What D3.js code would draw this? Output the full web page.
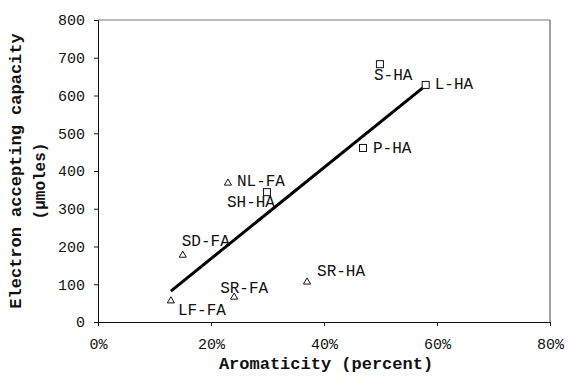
<!DOCTYPE html>
<html><head><meta charset="utf-8">
<script src="https://cdn.jsdelivr.net/npm/d3@7"></script>
<style>body{margin:0;background:#fff}svg{display:block}</style>
</head><body>
<svg id="c" width="568" height="381"></svg>
<script>
const names = ["LF-FA","SD-FA","SR-FA","SR-HA","NL-FA","SH-HA","S-HA","L-HA","P-HA"];
const aromaticity = [12.9, 15.0, 24.1, 37.0, 23.0, 29.9, 49.9, 58.0, 46.9];
const capacity = [56, 177, 66, 106, 368, 344, 683, 628, 461];
const shapes = ["tri","tri","tri","tri","tri","sq","sq","sq","sq"];
const labelDx = [7, -1, -14, 10, 9, -40, -6, 9, 10];
const labelDy = [14, -9, -4, -6, 3, 15, 16, 4, 5];
const fitX = [12.9, 58.3];
const fitY = [82, 630];
const xTicks = [0, 20, 40, 60, 80];
const yTicks = [0, 100, 200, 300, 400, 500, 600, 700, 800];

const svg = d3.select("#c");
const L = 98, R = 550, T = 20, B = 322;
const x = d3.scaleLinear().domain([0, 80]).range([L, R]);
const y = d3.scaleLinear().domain([0, 800]).range([B, T]);
const mono = "'Liberation Mono','Courier New',monospace";

// frame
svg.append("line").attr("x1", L).attr("x2", R).attr("y1", T).attr("y2", T).attr("stroke", "#777");
svg.append("line").attr("x1", R).attr("x2", R).attr("y1", T).attr("y2", B).attr("stroke", "#444");

const gx = svg.append("g").attr("transform", `translate(0,${B})`)
  .call(d3.axisBottom(x).tickValues(xTicks).tickFormat(d => d + "%").tickSize(4).tickPadding(12));
const gy = svg.append("g").attr("transform", `translate(${L},0)`)
  .call(d3.axisLeft(y).tickValues(yTicks).tickSize(4).tickPadding(9));
[gx, gy].forEach(g => {
  g.selectAll("text").attr("font-family", mono).attr("font-size", 15).attr("fill", "#111");
  g.selectAll("line,path").attr("stroke", "#111");
});

// regression line
svg.append("line").attr("x1", x(fitX[0])).attr("y1", y(fitY[0]))
  .attr("x2", x(fitX[1])).attr("y2", y(fitY[1]))
  .attr("stroke", "#000").attr("stroke-width", 3);

const data = names.map((n, i) => ({n, a: aromaticity[i], c: capacity[i], s: shapes[i], dx: labelDx[i], dy: labelDy[i]}));
const tri = d3.symbol().type(d3.symbolTriangle).size(22);
svg.selectAll(".pt").data(data).enter().each(function(d) {
  const g = d3.select(this);
  if (d.s === "tri") {
    svg.append("path").attr("d", tri()).attr("transform", `translate(${x(d.a)},${y(d.c)})`)
      .attr("fill", "#fff").attr("stroke", "#111").attr("stroke-width", 1);
  } else {
    svg.append("rect").attr("x", x(d.a) - 3.5).attr("y", y(d.c) - 3.5).attr("width", 7).attr("height", 7)
      .attr("fill", "#fff").attr("stroke", "#111").attr("stroke-width", 1);
  }
  svg.append("text").attr("x", x(d.a) + d.dx).attr("y", y(d.c) + d.dy)
    .attr("font-family", mono).attr("font-size", 16).attr("fill", "#111").text(d.n);
});

svg.append("text").attr("x", (L + R) / 2 + 2).attr("y", 369).attr("text-anchor", "middle")
  .attr("font-family", mono).attr("font-weight", "bold").attr("font-size", 17).attr("fill", "#111")
  .text("Aromaticity (percent)");
svg.append("text").attr("transform", "translate(21,171) rotate(-90)").attr("text-anchor", "middle")
  .attr("font-family", mono).attr("font-weight", "bold").attr("font-size", 17).attr("fill", "#111")
  .text("Electron accepting capacity");
svg.append("text").attr("transform", "translate(45,181) rotate(-90)").attr("text-anchor", "middle")
  .attr("font-family", mono).attr("font-weight", "bold").attr("font-size", 16).attr("fill", "#111")
  .text("(µmoles)");
</script>
</body></html>
